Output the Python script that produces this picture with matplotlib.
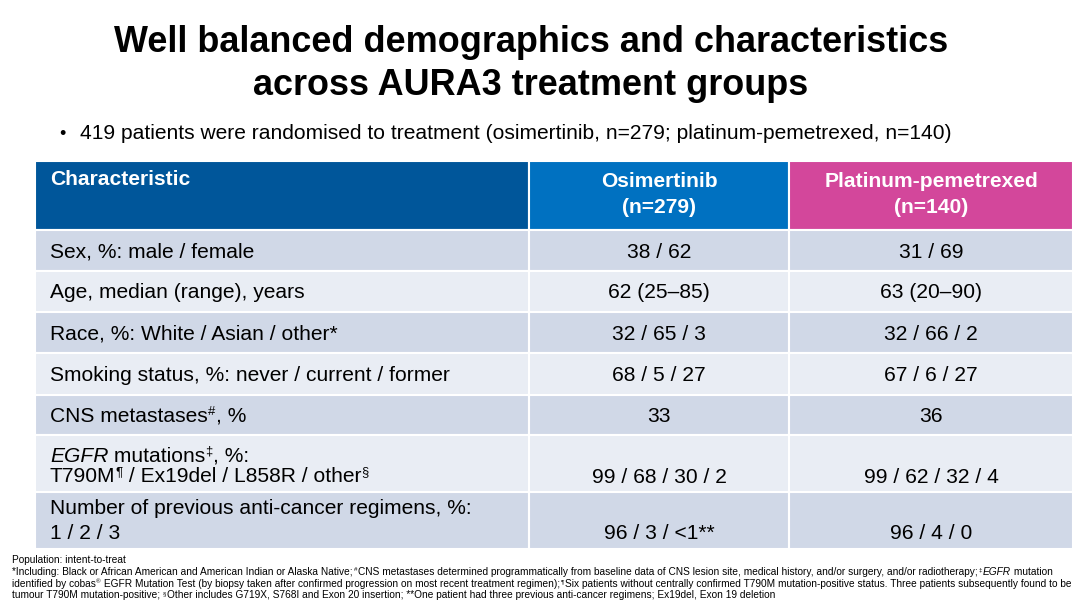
import re
import matplotlib
matplotlib.use("Agg")
import matplotlib.pyplot as plt
from matplotlib.patches import Rectangle
from matplotlib.font_manager import FontProperties, findfont, get_font
from matplotlib import ft2font

plt.rcParams['font.family'] = ['Liberation Sans', 'DejaVu Sans']

# Slide text
title = ["Well balanced demographics and characteristics", "across AURA3 treatment groups"]
bullet = "419 patients were randomised to treatment (osimertinib, n=279; platinum-pemetrexed, n=140)"
headers = ["Characteristic", ["Osimertinib", "(n=279)"], ["Platinum-pemetrexed", "(n=140)"]]

# Table data (<i>..</i> italic, <sup>..</sup> superscript)
characteristics = [
    "Sex, %: male / female",
    "Age, median (range), years",
    "Race, %: White / Asian / other*",
    "Smoking status, %: never / current / former",
    "CNS metastases<sup>#</sup>, %",
    "<i>EGFR</i> mutations<sup>\u2021</sup>, %:\nT790M<sup>\u00b6</sup> / Ex19del / L858R / other<sup>\u00a7</sup>",
    "Number of previous anti-cancer regimens, %:\n1 / 2 / 3",
]
osimertinib = ["38 / 62", "62 (25\u201385)", "32 / 65 / 3", "68 / 5 / 27", "33",
               "99 / 68 / 30 / 2", "96 / 3 / <1**"]
platinum = ["31 / 69", "63 (20\u201390)", "32 / 66 / 2", "67 / 6 / 27", "36",
            "99 / 62 / 32 / 4", "96 / 4 / 0"]

footnotes = [
    "Population: intent-to-treat",
    "*Including: Black or African American and American Indian or Alaska Native; <sup>#</sup>CNS metastases determined "
    "programmatically from baseline data of CNS lesion site, medical history, and/or surgery, and/or radiotherapy;"
    " <sup>\u2021</sup><i>EGFR</i> mutation",
    "identified by cobas<sup>\u00ae</sup> EGFR Mutation Test (by biopsy taken after confirmed progression on most recent "
    "treatment regimen); <sup>\u00b6</sup>Six patients without centrally confirmed T790M mutation-positive status. "
    "Three patients subsequently found to be",
    "tumour T790M mutation-positive; <sup>\u00a7</sup>Other includes G719X, S768I and Exon 20 insertion; **One patient had "
    "three previous anti-cancer regimens; Ex19del, Exon 19 deletion",
]

# Layout (pixels)
col_edges = [35, 529, 789, 1073]
row_edges = [161, 230, 271, 312, 353, 395, 435, 492, 549]
header_colors = ["#00569A", "#0071C1", "#D3479B"]
row_colors = ["#D0D8E7", "#E9EDF4"]
two_line_baselines = {5: (462, 482, 483), 6: (514, 539, 539)}
fs = 15.1
DPI = 100

fig = plt.figure(figsize=(10.8, 6.08), dpi=DPI)
ax = fig.add_axes([0, 0, 1, 1])
ax.set_xlim(0, 1080)
ax.set_ylim(608, 0)
ax.axis("off")

try:
    NO_HINT = ft2font.LoadFlags.NO_HINTING
    KERN = ft2font.Kerning.DEFAULT
except AttributeError:
    NO_HINT = ft2font.LOAD_NO_HINTING
    KERN = ft2font.KERNING_DEFAULT


def advance(s, size, style):
    # pen advance of a string in pixels
    font = get_font(findfont(FontProperties(family="Liberation Sans", style=style)))
    font.set_size(size, DPI)
    total, prev = 0.0, None
    for c in s:
        idx = font.get_char_index(ord(c))
        if prev is not None:
            total += font.get_kerning(prev, idx, KERN) / 64
        total += font.load_char(ord(c), flags=NO_HINT).linearHoriAdvance / 65536
        prev = idx
    return total


def rich_text(x, y, s, size, color="black"):
    pieces = [p for p in re.split(r"(<i>.*?</i>|<sup>.*?</sup>)", s) if p]
    for p in pieces:
        style, size_p, dy, gap = "normal", size, 0.0, 0.0
        if p.startswith("<i>"):
            p, style = p[3:-4], "italic"
        elif p.startswith("<sup>"):
            p, size_p, dy, gap = p[5:-6], size * 0.62, -size * 0.34 * DPI / 72, size * 0.05
        ax.text(x, y + dy, p, fontsize=size_p, fontstyle=style, ha="left", va="baseline", color=color)
        x += advance(p, size_p, style) + gap


for line, yb in zip(title, (52, 95)):
    ax.text(531, yb, line, ha="center", va="baseline", fontsize=25.9, fontweight="bold", color="black")
ax.text(62, 139, "\u2022", ha="center", va="baseline", fontsize=13)
ax.text(80, 139, bullet, ha="left", va="baseline", fontsize=fs, color="black")

# Header
for j in range(3):
    x0, x1 = col_edges[j], col_edges[j + 1]
    ax.add_patch(Rectangle((x0, row_edges[0]), x1 - x0, row_edges[1] - row_edges[0],
                           facecolor=header_colors[j], edgecolor="white", linewidth=1.5))
ax.text(50, 185, headers[0], ha="left", va="baseline", fontsize=fs, fontweight="bold", color="white")
for j in (1, 2):
    xc = (col_edges[j] + col_edges[j + 1]) / 2
    for line, yb in zip(headers[j], (187, 213)):
        ax.text(xc, yb, line, ha="center", va="baseline", fontsize=fs, fontweight="bold", color="white")

# Body
for i, (label, v1, v2) in enumerate(zip(characteristics, osimertinib, platinum)):
    y0, y1 = row_edges[i + 1], row_edges[i + 2]
    color = row_colors[i % 2]
    for j in range(3):
        x0, x1 = col_edges[j], col_edges[j + 1]
        ax.add_patch(Rectangle((x0, y0), x1 - x0, y1 - y0, facecolor=color,
                               edgecolor="white", linewidth=1.5))
    if i in two_line_baselines:
        b1, b2, yv = two_line_baselines[i]
        first, second = label.split("\n")
        rich_text(50, b1, first, fs)
        rich_text(50, b2, second, fs)
    else:
        yv = (y0 + y1) / 2 + 7
        rich_text(50, yv, label, fs)
    ax.text((col_edges[1] + col_edges[2]) / 2, yv, v1, ha="center", va="baseline", fontsize=fs)
    ax.text((col_edges[2] + col_edges[3]) / 2, yv, v2, ha="center", va="baseline", fontsize=fs)

# Footnotes
for k, line in enumerate(footnotes):
    rich_text(12, 563 + 11.8 * k, line, 7.25)

fig.savefig("out.png", dpi=DPI)
